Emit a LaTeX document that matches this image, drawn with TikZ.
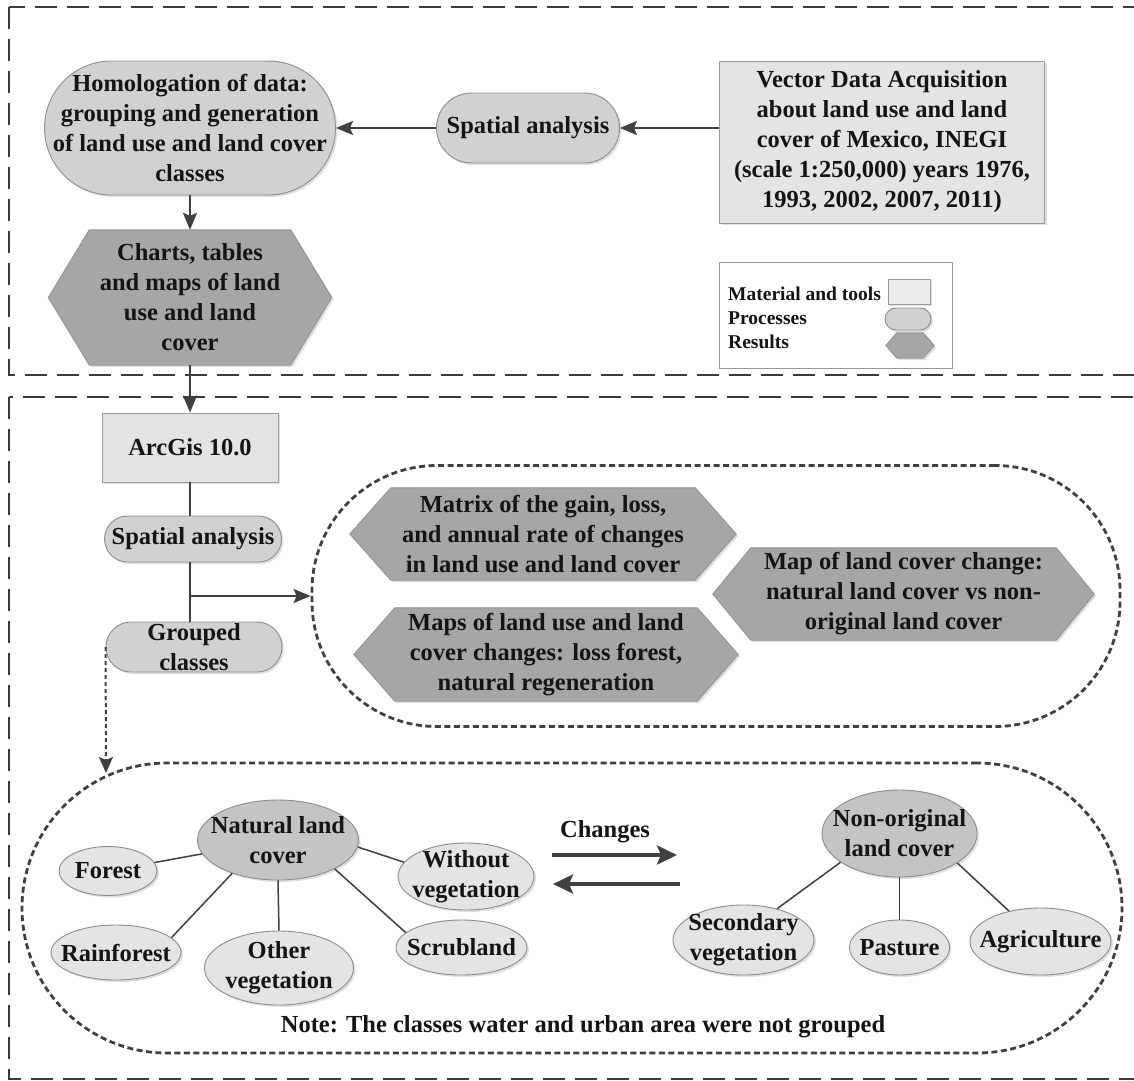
\documentclass[tikz,border=0pt]{standalone}
\usepackage{fontspec}
\setmainfont{Liberation Serif}
\usetikzlibrary{shapes.geometric,arrows.meta,shadows,backgrounds}
\definecolor{procfill}{HTML}{D1D1D1}
\definecolor{procline}{HTML}{8C8C8C}
\definecolor{boxfill}{HTML}{E4E4E4}
\definecolor{boxline}{HTML}{9A9A9A}
\definecolor{hexfill}{HTML}{A6A6A6}
\definecolor{hexline}{HTML}{939393}
\definecolor{natfill}{HTML}{C4C4C4}
\definecolor{ellfill}{HTML}{E4E4E4}
\definecolor{darkline}{HTML}{404040}
\definecolor{framecol}{HTML}{3A3A3A}
\newcommand\hexbg[2]{%
  \begin{pgfonlayer}{background}
    \path[hexshape] (#1.west) -- ([xshift=#2]#1.north west) -- ([xshift=-#2]#1.north east)
      -- (#1.east) -- ([xshift=-#2]#1.south east) -- ([xshift=#2]#1.south west) -- cycle;
  \end{pgfonlayer}}
\begin{document}
\begin{tikzpicture}[x=1pt,y=-1pt,
  every node/.style={font=\fontsize{24.5}{30}\selectfont\bfseries, align=center, inner sep=0pt, text=black!92},
  shadowed/.style={drop shadow={shadow xshift=2pt,shadow yshift=-2pt,opacity=.3,fill=black!40}},
  proc/.style={rectangle, draw=procline, fill=procfill, line width=0.9pt, rounded corners=#1, shadowed},
  tool/.style={rectangle, draw=boxline, fill=boxfill, line width=0.9pt, shadowed},
  hextext/.style={rectangle, draw=none, fill=none},
  hexshape/.style={draw=hexline, fill=hexfill, line width=0.9pt, shadowed},
  ell/.style={ellipse, draw=procline, fill=ellfill, line width=0.9pt, shadowed},
  container/.style={rectangle, draw=darkline, dash pattern=on 6pt off 3.5pt, line width=2.8pt, rounded corners=#1},
  frame/.style={draw=framecol, dash pattern=on 22pt off 10pt, line width=2.5pt},
  arr/.style={draw=darkline, line width=2pt, -{Stealth[length=17pt,width=14pt,inset=3pt]}},
  bigarr/.style={draw=darkline, line width=4pt, -{Stealth[length=20pt,width=19pt,inset=4pt]}},
  dotarr/.style={draw=darkline, line width=2pt, dash pattern=on 4pt off 3pt, -{Stealth[length=16pt,width=14pt,inset=3pt]}},
  conn/.style={draw=darkline, line width=1.5pt},
  legtext/.style={font=\fontsize{19.5}{24}\selectfont\bfseries, align=left},
]
\useasboundingbox (0,0) rectangle (1134,1080);
\begin{pgfonlayer}{background}
  \fill[white] (0,0) rectangle (1134,1080);
\end{pgfonlayer}

% frames
\draw[frame] (9,7) rectangle (1137,375);
\draw[frame] (9,397) rectangle (1137,1079);

% ---------- top part ----------
\node[proc=67pt, minimum width=291pt, minimum height=134pt] (homol) at (190,128)
  {Homologation of data:\\grouping and generation\\of land use and land cover\\classes};
\node[proc=35pt, minimum width=183pt, minimum height=70pt] (spat1) at (528,128) {Spatial analysis};
\node[tool, minimum width=325pt, minimum height=162pt] (vector) at (882,142)
  {Vector Data Acquisition\\about land use and land\\cover of Mexico, INEGI\\(scale 1:250,000) years 1976,\\1993, 2002, 2007, 2011)};
\node[hextext, minimum width=283pt, minimum height=135pt] (charts) at (190,297.5)
  {Charts, tables\\and maps of land\\use and land\\cover};
\hexbg{charts}{41pt}

\draw[arr] (vector.west |- spat1.east) -- (spat1.east);
\draw[arr] (spat1.west) -- (homol.east);
\draw[arr] (homol.south) -- (charts.north);

% legend
\node[rectangle, draw=boxline, fill=white, line width=0.9pt, minimum width=233pt, minimum height=106pt] (legend) at (835.5,315) {};
\node[legtext, anchor=west] (legtxt) at (728,318) {Material and tools\\Processes\\Results};
\node[tool, minimum width=42pt, minimum height=25pt, fill=boxfill!70!white] (legtool) at (909,291.5) {};
\node[proc=11pt, minimum width=46pt, minimum height=22pt] (legproc) at (908,319) {};
\node[hextext, minimum width=48pt, minimum height=25pt] (leghex) at (910,345.5) {};
\path[hexshape] (leghex.west) -- ([xshift=11pt]leghex.north west) -- ([xshift=-11pt]leghex.north east)
  -- (leghex.east) -- ([xshift=-11pt]leghex.south east) -- ([xshift=11pt]leghex.south west) -- cycle;

% ---------- bottom part ----------
\node[tool, minimum width=176pt, minimum height=69pt] (arcgis) at (190,447.5) {ArcGis 10.0};
\draw[arr] (charts.south) -- (arcgis.north);
\node[proc=23pt, minimum width=177pt, minimum height=46pt] (spat2) at (193,539) {Spatial analysis};
\node[proc=25pt, minimum width=176pt, minimum height=50pt] (grouped) at (194,647) {Grouped\\classes};
\draw[conn] (arcgis.south) -- (arcgis.south |- spat2.north);
\draw[conn] (arcgis.south |- spat2.south) -- (arcgis.south |- grouped.north);

\node[container=125pt, minimum width=808pt, minimum height=261pt] (box1) at (716,596) {};
\draw[arr] (arcgis.south |- box1.west) -- (box1.west);

\node[hextext, minimum width=386pt, minimum height=92pt] (matrix) at (543,534)
  {Matrix of the gain, loss,\\and annual rate of changes\\in land use and land cover};
\hexbg{matrix}{41pt}
\node[hextext, minimum width=384pt, minimum height=93pt] (mapsch) at (546,654.5)
  {Maps of land use and land\\cover changes: loss forest,\\natural regeneration};
\hexbg{mapsch}{41pt}
\node[hextext, minimum width=381pt, minimum height=92pt] (mapnat) at (903.5,594)
  {Map of land cover change:\\natural land cover vs non-\\original land cover};
\hexbg{mapnat}{38pt}

% grouped classes container
\node[container=145pt, minimum width=1100pt, minimum height=290pt] (box2) at (572,908) {};
\coordinate (gtarget) at (106,773);
\draw[dotarr] (grouped.west) -- (gtarget);

\node[ell, fill=natfill, minimum width=161pt, minimum height=80pt, label={center:{Natural land\\cover}}] (nat) at (278,840) {};
\node[ell, minimum width=98pt, minimum height=49pt, label={center:Forest}] (forest) at (108,871) {};
\node[ell, minimum width=130pt, minimum height=55pt, label={center:Rainforest}] (rain) at (116,952.5) {};
\node[ell, minimum width=149pt, minimum height=74pt, label={center:{Other\\vegetation}}] (other) at (279,968) {};
\node[ell, minimum width=131pt, minimum height=55pt, label={center:Scrubland}] (scrub) at (461.5,947.5) {};
\node[ell, minimum width=136pt, minimum height=67pt, label={center:{Without\\vegetation}}] (without) at (466,876.5) {};
\draw[conn] (nat) -- (forest);
\draw[conn] (nat.216) -- (rain.15);
\draw[conn] (nat.south) -- (other.north);
\draw[conn] (nat.333) -- (scrub.165);
\draw[conn] (nat.355) -- (without.167);

\node (changes) at (605,832) {Changes};
\coordinate (chR1) at (552,855);
\coordinate (chR2) at (677,855);
\coordinate (chL1) at (680,884);
\coordinate (chL2) at (553,884);
\draw[bigarr] (chR1) -- (chR2);
\draw[bigarr] (chL1) -- (chL2);

\node[ell, fill=natfill, minimum width=155pt, minimum height=87pt, label={center:{Non-original\\land cover}}] (nonorig) at (899.5,833.5) {};
\node[ell, minimum width=141pt, minimum height=70pt, label={center:{Secondary\\vegetation}}] (second) at (743.5,940) {};
\node[ell, minimum width=100pt, minimum height=55pt, label={center:Pasture}] (pasture) at (899.5,947.5) {};
\node[ell, minimum width=141pt, minimum height=67pt, label={center:Agriculture}] (agri) at (1040.5,941.5) {};
\draw[conn] (nonorig.206) -- (second.43);
\draw[conn] (nonorig.south) -- (pasture.north);
\draw[conn] (nonorig.333) -- (agri.136);

\node (note) at (583,1027) {Note: The classes water and urban area were not grouped};
\end{tikzpicture}
\end{document}
